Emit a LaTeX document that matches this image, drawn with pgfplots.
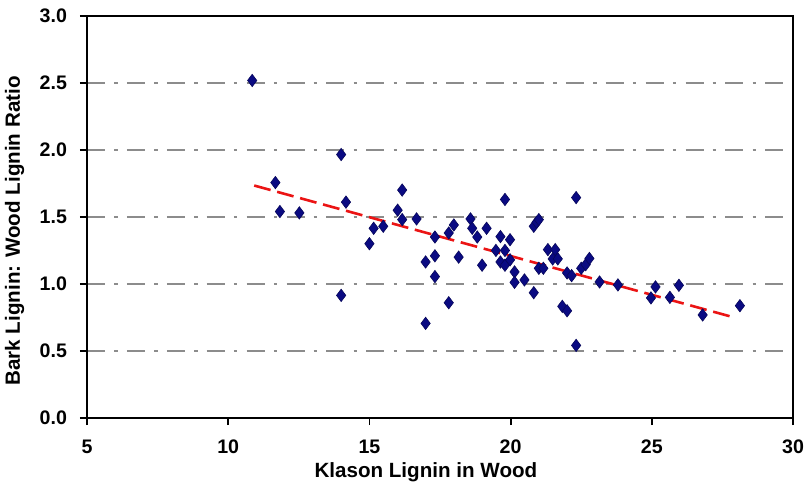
\documentclass[border=0pt]{standalone}
\usepackage{fontspec}
\setmainfont{Liberation Sans}
\usepackage{pgfplots}
\pgfplotsset{compat=1.18}

\definecolor{ptnavy}{RGB}{10,10,130}
\definecolor{gridgray}{RGB}{140,140,140}
\definecolor{fitred}{RGB}{235,20,20}

\begin{document}
\begin{tikzpicture}
\begin{axis}[
    name=ax,
    scale only axis,
    width=353pt, height=201.2pt,
    xmin=5, xmax=30, ymin=0, ymax=3,
    xtick={5,10,...,30},
    ytick={0,0.5,...,3},
    yticklabel style={/pgf/number format/fixed, /pgf/number format/fixed zerofill, /pgf/number format/precision=1},
    /pgf/number format/assume math mode=true,
    ticklabel style={font=\fontsize{9.8pt}{11pt}\selectfont\bfseries},
    xticklabel style={yshift=-4pt},
    yticklabel style={xshift=-3pt},
    tick align=outside,
    major tick length=3.5pt,
    tick style={black, line width=0.9pt},
    xtick pos=bottom, ytick pos=left,
    axis line style={black, line width=1.2pt},
    ymajorgrids=true,
    grid style={gridgray, line width=0.9pt, dash pattern=on 9pt off 4.6pt on 1.75pt off 4.6pt},
    xlabel={Klason Lignin in Wood},
    ylabel={Bark Lignin: Wood Lignin Ratio},
    label style={font=\fontsize{10.3pt}{12pt}\selectfont\bfseries},
    xlabel style={at={(axis description cs:0.48,-0.134)}, anchor=center},
    ylabel style={at={(axis description cs:-0.1027,0.465)}, anchor=center},
]

\addplot[only marks, mark=diamond*, mark size=3.1pt,
    mark options={fill=ptnavy, draw=ptnavy!70!black, line width=0.3pt}]
    coordinates {
        (10.85,2.517) (14.00,1.965) (11.67,1.756) (11.83,1.540) (12.52,1.530)
        (14.17,1.610) (14.00,0.915) (15.00,1.300) (15.15,1.415) (15.49,1.430)
        (16.00,1.550) (16.16,1.700) (16.16,1.480) (16.67,1.485) (17.32,1.350)
        (16.99,1.164) (17.32,1.210) (17.32,1.055) (16.99,0.706) (17.81,1.380)
        (17.99,1.440) (18.16,1.200) (17.81,0.860) (18.58,1.485) (18.64,1.415)
        (18.82,1.350) (19.15,1.415) (18.99,1.140) (19.48,1.250) (19.64,1.353)
        (19.80,1.630) (19.98,1.330) (19.80,1.250) (19.64,1.164) (19.80,1.140)
        (19.98,1.180) (20.14,1.090) (20.14,1.012) (20.49,1.030) (20.82,1.430)
        (20.92,1.460) (21.00,1.480) (20.82,0.935) (21.00,1.117) (21.16,1.117)
        (21.32,1.256) (21.58,1.256) (21.49,1.187) (21.67,1.187) (21.83,0.833)
        (22.00,0.800) (22.00,1.082) (22.16,1.062) (22.32,1.644) (22.32,0.542)
        (22.50,1.117) (22.66,1.144) (22.79,1.190) (23.15,1.015) (23.80,0.993)
        (24.97,0.896) (25.13,0.978) (25.64,0.900) (25.96,0.990) (26.80,0.769)
        (28.12,0.838)
    };

\addplot[fitred, line width=1.3pt, dash pattern=on 8.5pt off 3.4pt]
    coordinates {(10.92,1.734) (27.94,0.749)};
\end{axis}
\pgfresetboundingbox
\useasboundingbox ([xshift=-43.5pt,yshift=-34pt]ax.south west) rectangle ([xshift=5.5pt,yshift=7.85pt]ax.north east);
\end{tikzpicture}
\end{document}
